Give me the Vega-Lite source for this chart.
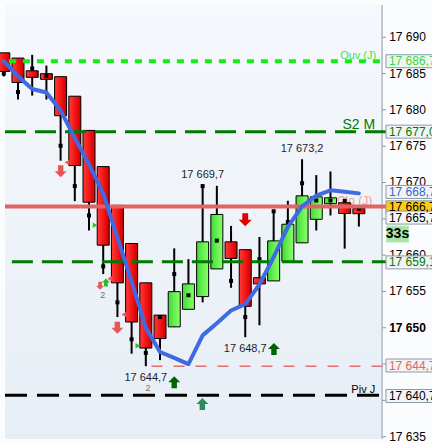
{
  "$schema": "https://vega.github.io/schema/vega-lite/v6.json",
  "width": 432,
  "height": 444,
  "padding": 0,
  "autosize": {"type": "none"},
  "background": "#fbfcfd",
  "config": {"view": {"fill": null, "stroke": null}, "font": "Liberation Sans"},
  "resolve": {"scale": {"color": "independent", "fill": "independent", "size": "independent", "shape": "independent", "strokeWidth": "independent", "strokeDash": "independent"}},
  "datasets": {
    "candles": [
      {"i": 0, "o": 17687.85, "h": 17687.85, "l": 17684.6, "c": 17685.29, "m": 17685.0},
      {"i": 1, "o": 17687.13, "h": 17687.13, "l": 17681.43, "c": 17683.77, "m": 17682.46},
      {"i": 2, "o": 17685.38, "h": 17687.58, "l": 17681.96, "c": 17684.48, "m": 17685.69},
      {"i": 3, "o": 17684.98, "h": 17686.1, "l": 17681.43, "c": 17684.21, "m": 17684.66},
      {"i": 4, "o": 17684.57, "h": 17684.57, "l": 17673.0, "c": 17679.19, "m": 17675.06},
      {"i": 5, "o": 17681.88, "h": 17681.88, "l": 17667.43, "c": 17672.33, "m": 17669.5},
      {"i": 6, "o": 17677.17, "h": 17677.17, "l": 17663.39, "c": 17667.29, "m": 17665.46},
      {"i": 7, "o": 17672.19, "h": 17672.19, "l": 17657.39, "c": 17661.37, "m": 17658.46},
      {"i": 8, "o": 17666.85, "h": 17666.85, "l": 17651.47, "c": 17656.18, "m": 17653.49},
      {"i": 9, "o": 17661.6, "h": 17661.6, "l": 17646.43, "c": 17650.79, "m": 17648.41},
      {"i": 10, "o": 17656.18, "h": 17656.18, "l": 17644.7, "c": 17647.2, "m": 17646.53},
      {"i": 11, "o": 17651.74, "h": 17651.74, "l": 17645.54, "c": 17648.51, "m": 17651.47},
      {"i": 12, "o": 17650.12, "h": 17660.93, "l": 17650.12, "c": 17654.97, "m": 17657.39},
      {"i": 13, "o": 17652.54, "h": 17659.45, "l": 17652.54, "c": 17656.04, "m": 17654.47},
      {"i": 14, "o": 17654.29, "h": 17669.7, "l": 17653.49, "c": 17661.83, "m": 17669.5},
      {"i": 15, "o": 17658.1, "h": 17669.54, "l": 17658.1, "c": 17665.6, "m": 17662.0},
      {"i": 16, "o": 17661.83, "h": 17664.02, "l": 17655.5, "c": 17659.54, "m": 17656.45},
      {"i": 17, "o": 17660.75, "h": 17660.75, "l": 17648.7, "c": 17652.95, "m": 17651.47},
      {"i": 18, "o": 17656.89, "h": 17662.5, "l": 17650.34, "c": 17656.04, "m": 17659.45},
      {"i": 19, "o": 17656.45, "h": 17666.04, "l": 17656.45, "c": 17661.96, "m": 17666.04},
      {"i": 20, "o": 17659.14, "h": 17667.48, "l": 17659.14, "c": 17664.25, "m": 17664.56},
      {"i": 21, "o": 17661.69, "h": 17673.2, "l": 17661.69, "c": 17668.16, "m": 17669.9},
      {"i": 22, "o": 17664.93, "h": 17671.02, "l": 17663.39, "c": 17668.02, "m": 17667.52},
      {"i": 23, "o": 17667.08, "h": 17671.52, "l": 17665.46, "c": 17667.89, "m": 17667.52},
      {"i": 24, "o": 17667.21, "h": 17667.52, "l": 17660.89, "c": 17665.73, "m": 17667.48},
      {"i": 25, "o": 17666.4, "h": 17666.4, "l": 17663.93, "c": 17665.7, "m": 17666.4}
    ],
    "ma": [
      {"i": 0, "v": 17686.7}, {"i": 1, "v": 17684.62}, {"i": 2, "v": 17682.87}, {"i": 3, "v": 17682.39},
      {"i": 4, "v": 17679.9}, {"i": 5, "v": 17676.14}, {"i": 6, "v": 17672.5}, {"i": 7, "v": 17668.46},
      {"i": 8, "v": 17662.41}, {"i": 9, "v": 17656.35}, {"i": 10, "v": 17650.0}, {"i": 11, "v": 17646.66},
      {"i": 12, "v": 17645.85}, {"i": 13, "v": 17645.0}, {"i": 14, "v": 17648.95}, {"i": 15, "v": 17650.63},
      {"i": 16, "v": 17652.38}, {"i": 17, "v": 17653.26}, {"i": 18, "v": 17655.95}, {"i": 19, "v": 17659.72},
      {"i": 20, "v": 17663.89}, {"i": 21, "v": 17666.71}, {"i": 22, "v": 17668.19}, {"i": 23, "v": 17668.93},
      {"i": 24, "v": 17668.73}, {"i": 25, "v": 17668.5}
    ],
    "levels": [
      {"name": "ouv", "v": 17686.7, "a": 0.36, "b": 26.908},
      {"name": "s2", "v": 17677.0, "a": 0.0853, "b": 26.908},
      {"name": "clo", "v": 17666.7, "a": 0.0853, "b": 26.908},
      {"name": "s1", "v": 17659.1, "a": 0.57, "b": 26.908},
      {"name": "low", "v": 17644.7, "a": 10.4, "b": 26.908},
      {"name": "piv", "v": 17640.7, "a": 0.0853, "b": 26.908}
    ],
    "marks": [
      {"k": "dn", "i": 4.005, "v": 17671.56},
      {"k": "dn", "i": 7.994, "v": 17650.0},
      {"k": "dnS", "i": 6.78, "v": 17655.77},
      {"k": "dnBig", "i": 17.0, "v": 17664.87},
      {"k": "up", "i": 12.0, "v": 17642.49},
      {"k": "up", "i": 19.02, "v": 17647.07},
      {"k": "up2", "i": 13.98, "v": 17639.49},
      {"k": "upS", "i": 7.19, "v": 17656.24},
      {"k": "triR", "i": 6.43, "v": 17664.12},
      {"k": "triR", "i": 9.44, "v": 17647.53},
      {"k": "triL", "i": 4.44, "v": 17672.77},
      {"k": "triL", "i": 7.46, "v": 17656.75},
      {"k": "triL", "i": 8.46, "v": 17651.82}
    ],
    "notes": [
      {"k": "ouv", "t": "Ouv (J)", "i": 26.22, "v": 17687.37},
      {"k": "s2", "t": "S2 M", "i": 26.15, "v": 17677.95},
      {"k": "piv", "t": "Piv J", "i": 26.15, "v": 17641.45}
    ],
    "prices": [
      {"k": "hi", "t": "17 669,7", "i": 14, "v": 17669.7},
      {"k": "hi", "t": "17 673,2", "i": 21, "v": 17673.2},
      {"k": "lo", "t": "17 648,7", "i": 17, "v": 17648.7},
      {"k": "lo", "t": "17 644,7", "i": 10, "v": 17644.7}
    ],
    "twos": [
      {"t": "2", "i": 6.96, "v": 17654.47},
      {"t": "2", "i": 10.16, "v": 17641.68}
    ],
    "ticks": [
      {"v": 17635, "t": "17 635"}, {"v": 17640, "t": "17 640"}, {"v": 17645, "t": "17 645"},
      {"v": 17650, "t": "17 650"}, {"v": 17655, "t": "17 655"}, {"v": 17660, "t": "17 660"},
      {"v": 17665, "t": "17 665"}, {"v": 17670, "t": "17 670"}, {"v": 17675, "t": "17 675"},
      {"v": 17680, "t": "17 680"}, {"v": 17685, "t": "17 685"}, {"v": 17690, "t": "17 690"}
    ],
    "boxes": [
      {"name": "ouv", "v": 17686.7, "t": "17 686,7"},
      {"name": "s2", "v": 17677.0, "t": "17 677,0"},
      {"name": "ma", "v": 17668.7, "t": "17 668,7"},
      {"name": "clo", "v": 17666.58, "t": "17 666,7"},
      {"name": "last", "v": 17665.17, "t": "17 665,7"},
      {"name": "s1", "v": 17659.0, "t": "17 659,1"},
      {"name": "low", "v": 17644.8, "t": "17 644,7"},
      {"name": "piv", "v": 17640.6, "t": "17 640,7"}
    ]
  },
  "layer": [
    {
      "data": {"values": [{"a": 0}]},
      "mark": {"type": "rect",
        "fill": {"gradient": "linear", "x1": 0, "y1": 0, "x2": 0, "y2": 1, "stops": [{"offset": 0, "color": "#f5f8fc"}, {"offset": 1, "color": "#e7eef5"}]}},
      "encoding": {
        "x": {"datum": 0.0853, "type": "quantitative", "scale": {"domain": [0.0853, 29.7964], "nice": false, "zero": false}, "axis": null},
        "x2": {"datum": 26.6},
        "y": {"datum": 17634.68, "type": "quantitative", "scale": {"domain": [17634.68, 17694.44], "nice": false, "zero": false}, "axis": null},
        "y2": {"datum": 17694.44}
      }
    },
    {
      "data": {"values": [{"a": 0}]},
      "mark": {"type": "rule", "color": "#8798aa", "strokeWidth": 1},
      "encoding": {
        "x": {"datum": 26.6327, "type": "quantitative", "scale": {"domain": [0.0853, 29.7964], "nice": false, "zero": false}, "axis": null},
        "y": {"datum": 17634.68, "type": "quantitative", "scale": {"domain": [17634.68, 17694.44], "nice": false, "zero": false}, "axis": null},
        "y2": {"datum": 17694.44}
      }
    },
    {
      "data": {"name": "ticks"},
      "mark": {"type": "rule", "color": "#8798aa", "strokeWidth": 1},
      "encoding": {
        "x": {"datum": 26.6327, "type": "quantitative", "scale": {"domain": [0.0853, 29.7964], "nice": false, "zero": false}, "axis": null},
        "x2": {"datum": 26.91},
        "y": {"field": "v", "type": "quantitative", "scale": {"domain": [17634.68, 17694.44], "nice": false, "zero": false}, "axis": null}
      }
    },
    {
      "data": {"name": "ticks"},
      "transform": [{"filter": "datum.v != 17650 && datum.v != 17665 && datum.v != 17645 && datum.v != 17640"}],
      "mark": {"type": "text", "align": "left", "baseline": "middle", "fontSize": 12, "color": "#000000"},
      "encoding": {
        "x": {"datum": 27.13, "type": "quantitative", "scale": {"domain": [0.0853, 29.7964], "nice": false, "zero": false}, "axis": null},
        "y": {"field": "v", "type": "quantitative", "scale": {"domain": [17634.68, 17694.44], "nice": false, "zero": false}, "axis": null},
        "text": {"field": "t"}
      }
    },
    {
      "data": {"name": "ticks"},
      "transform": [{"filter": "datum.v == 17650"}],
      "mark": {"type": "text", "align": "left", "baseline": "middle", "fontSize": 12, "fontWeight": "bold", "color": "#000000"},
      "encoding": {
        "x": {"datum": 27.13, "type": "quantitative", "scale": {"domain": [0.0853, 29.7964], "nice": false, "zero": false}, "axis": null},
        "y": {"field": "v", "type": "quantitative", "scale": {"domain": [17634.68, 17694.44], "nice": false, "zero": false}, "axis": null},
        "text": {"field": "t"}
      }
    },
    {
      "data": {"values": [{"t": "Clo (J)", "i": 25.94, "v": 17667.43}]},
      "mark": {"type": "text", "align": "right", "baseline": "middle", "fontSize": 12, "color": "#f09a9a"},
      "encoding": {
        "x": {"field": "i", "type": "quantitative", "scale": {"domain": [0.0853, 29.7964], "nice": false, "zero": false}, "axis": null},
        "y": {"field": "v", "type": "quantitative", "scale": {"domain": [17634.68, 17694.44], "nice": false, "zero": false}, "axis": null},
        "text": {"field": "t"}
      }
    },
    {
      "data": {"name": "candles"},
      "mark": {"type": "rule", "color": "#000000", "strokeWidth": 2},
      "encoding": {
        "x": {"field": "i", "type": "quantitative", "scale": {"domain": [0.0853, 29.7964], "nice": false, "zero": false}, "axis": null},
        "y": {"field": "l", "type": "quantitative", "scale": {"domain": [17634.68, 17694.44], "nice": false, "zero": false}, "axis": null},
        "y2": {"field": "h"}
      }
    },
    {
      "data": {"name": "candles"},
      "transform": [{"filter": "datum.c < datum.o"}],
      "mark": {"type": "bar", "width": 12, "stroke": "#000000", "strokeWidth": 1,
        "fill": {"gradient": "linear", "x1": 0, "y1": 0, "x2": 1, "y2": 0, "stops": [{"offset": 0, "color": "#ff3b3b"}, {"offset": 0.6, "color": "#f01010"}, {"offset": 1, "color": "#c80000"}]}},
      "encoding": {
        "x": {"field": "i", "type": "quantitative", "scale": {"domain": [0.0853, 29.7964], "nice": false, "zero": false}, "axis": null},
        "y": {"field": "o", "type": "quantitative", "scale": {"domain": [17634.68, 17694.44], "nice": false, "zero": false}, "axis": null},
        "y2": {"field": "c"}
      }
    },
    {
      "data": {"name": "candles"},
      "transform": [{"filter": "datum.c >= datum.o"}],
      "mark": {"type": "bar", "width": 12, "stroke": "#000000", "strokeWidth": 1,
        "fill": {"gradient": "linear", "x1": 0, "y1": 0, "x2": 1, "y2": 0, "stops": [{"offset": 0, "color": "#3fd83a"}, {"offset": 0.5, "color": "#66f050"}, {"offset": 1, "color": "#8cff6a"}]}},
      "encoding": {
        "x": {"field": "i", "type": "quantitative", "scale": {"domain": [0.0853, 29.7964], "nice": false, "zero": false}, "axis": null},
        "y": {"field": "o", "type": "quantitative", "scale": {"domain": [17634.68, 17694.44], "nice": false, "zero": false}, "axis": null},
        "y2": {"field": "c"}
      }
    },
    {
      "data": {"name": "candles"},
      "mark": {"type": "point", "shape": "square", "filled": true, "size": 16, "color": "#000000", "opacity": 1},
      "encoding": {
        "x": {"field": "i", "type": "quantitative", "scale": {"domain": [0.0853, 29.7964], "nice": false, "zero": false}, "axis": null},
        "y": {"field": "m", "type": "quantitative", "scale": {"domain": [17634.68, 17694.44], "nice": false, "zero": false}, "axis": null}
      }
    },
    {
      "data": {"name": "levels"},
      "mark": {"type": "rule"},
      "encoding": {
        "x": {"field": "a", "type": "quantitative", "scale": {"domain": [0.0853, 29.7964], "nice": false, "zero": false}, "axis": null},
        "x2": {"field": "b"},
        "y": {"field": "v", "type": "quantitative", "scale": {"domain": [17634.68, 17694.44], "nice": false, "zero": false}, "axis": null},
        "color": {"field": "name", "type": "nominal", "legend": null,
          "scale": {"domain": ["ouv", "s2", "clo", "s1", "low", "piv"], "range": ["#11ee11", "#007a00", "#e06464", "#007a00", "#e07070", "#000000"]}},
        "strokeWidth": {"field": "name", "type": "nominal", "legend": null,
          "scale": {"type": "ordinal", "domain": ["ouv", "s2", "clo", "s1", "low", "piv"], "range": [4, 3, 4, 3, 1.3, 3]}},
        "strokeDash": {"field": "name", "type": "nominal", "legend": null,
          "scale": {"domain": ["ouv", "s2", "clo", "s1", "low", "piv"], "range": [[7, 7], [21, 9], [1, 0], [21, 9], [11, 11], [22, 10]]}}
      }
    },
    {
      "data": {"name": "ma"},
      "mark": {"type": "line", "color": "#4169e1", "strokeWidth": 4, "strokeJoin": "round", "strokeCap": "round"},
      "encoding": {
        "x": {"field": "i", "type": "quantitative", "scale": {"domain": [0.0853, 29.7964], "nice": false, "zero": false}, "axis": null},
        "y": {"field": "v", "type": "quantitative", "scale": {"domain": [17634.68, 17694.44], "nice": false, "zero": false}, "axis": null}
      }
    },
    {
      "data": {"name": "marks"},
      "mark": {"type": "point", "filled": true, "opacity": 1, "strokeWidth": 0},
      "encoding": {
        "x": {"field": "i", "type": "quantitative", "scale": {"domain": [0.0853, 29.7964], "nice": false, "zero": false}, "axis": null},
        "y": {"field": "v", "type": "quantitative", "scale": {"domain": [17634.68, 17694.44], "nice": false, "zero": false}, "axis": null},
        "shape": {"field": "k", "type": "nominal", "legend": null,
          "scale": {"domain": ["dn", "dnS", "dnBig", "up", "up2", "upS", "triR", "triL"],
            "range": ["M-0.45,-1L0.45,-1L0.45,0L1,0L0,1L-1,0L-0.45,0Z", "M-0.45,-1L0.45,-1L0.45,0L1,0L0,1L-1,0L-0.45,0Z", "M-0.45,-1L0.45,-1L0.45,0L1,0L0,1L-1,0L-0.45,0Z",
              "M-0.45,1L0.45,1L0.45,0L1,0L0,-1L-1,0L-0.45,0Z", "M-0.45,1L0.45,1L0.45,0L1,0L0,-1L-1,0L-0.45,0Z", "M-0.45,1L0.45,1L0.45,0L1,0L0,-1L-1,0L-0.45,0Z",
              "triangle-right", "triangle-left"]}},
        "color": {"field": "k", "type": "nominal", "legend": null,
          "scale": {"domain": ["dn", "dnS", "dnBig", "up", "up2", "upS", "triR", "triL"],
            "range": ["#e85555", "#e85555", "#dd0000", "#006400", "#2e8b57", "#22bb22", "#22cc22", "#ee5555"]}},
        "size": {"field": "k", "type": "nominal", "legend": null,
          "scale": {"type": "ordinal", "domain": ["dn", "dnS", "dnBig", "up", "up2", "upS", "triR", "triL"], "range": [144, 64, 169, 144, 144, 64, 30, 30]}}
      }
    },
    {
      "data": {"name": "notes"},
      "transform": [{"filter": "datum.k == 'ouv'"}],
      "mark": {"type": "text", "align": "right", "baseline": "middle", "fontSize": 11, "color": "#44e044"},
      "encoding": {
        "x": {"field": "i", "type": "quantitative", "scale": {"domain": [0.0853, 29.7964], "nice": false, "zero": false}, "axis": null},
        "y": {"field": "v", "type": "quantitative", "scale": {"domain": [17634.68, 17694.44], "nice": false, "zero": false}, "axis": null},
        "text": {"field": "t"}
      }
    },
    {
      "data": {"name": "notes"},
      "transform": [{"filter": "datum.k == 's2'"}],
      "mark": {"type": "text", "align": "right", "baseline": "middle", "fontSize": 14, "color": "#007a00"},
      "encoding": {
        "x": {"field": "i", "type": "quantitative", "scale": {"domain": [0.0853, 29.7964], "nice": false, "zero": false}, "axis": null},
        "y": {"field": "v", "type": "quantitative", "scale": {"domain": [17634.68, 17694.44], "nice": false, "zero": false}, "axis": null},
        "text": {"field": "t"}
      }
    },
    {
      "data": {"name": "notes"},
      "transform": [{"filter": "datum.k == 'piv'"}],
      "mark": {"type": "text", "align": "right", "baseline": "middle", "fontSize": 11, "color": "#000000"},
      "encoding": {
        "x": {"field": "i", "type": "quantitative", "scale": {"domain": [0.0853, 29.7964], "nice": false, "zero": false}, "axis": null},
        "y": {"field": "v", "type": "quantitative", "scale": {"domain": [17634.68, 17694.44], "nice": false, "zero": false}, "axis": null},
        "text": {"field": "t"}
      }
    },
    {
      "data": {"name": "prices"},
      "transform": [{"filter": "datum.k == 'hi'"}],
      "mark": {"type": "text", "align": "center", "baseline": "middle", "dy": -10, "fontSize": 11, "color": "#1c1c30"},
      "encoding": {
        "x": {"field": "i", "type": "quantitative", "scale": {"domain": [0.0853, 29.7964], "nice": false, "zero": false}, "axis": null},
        "y": {"field": "v", "type": "quantitative", "scale": {"domain": [17634.68, 17694.44], "nice": false, "zero": false}, "axis": null},
        "text": {"field": "t"}
      }
    },
    {
      "data": {"name": "prices"},
      "transform": [{"filter": "datum.k == 'lo'"}],
      "mark": {"type": "text", "align": "center", "baseline": "middle", "dy": 12, "fontSize": 11, "color": "#1c1c30"},
      "encoding": {
        "x": {"field": "i", "type": "quantitative", "scale": {"domain": [0.0853, 29.7964], "nice": false, "zero": false}, "axis": null},
        "y": {"field": "v", "type": "quantitative", "scale": {"domain": [17634.68, 17694.44], "nice": false, "zero": false}, "axis": null},
        "text": {"field": "t"}
      }
    },
    {
      "data": {"name": "twos"},
      "mark": {"type": "text", "align": "center", "baseline": "middle", "fontSize": 9, "color": "#8a6a4a"},
      "encoding": {
        "x": {"field": "i", "type": "quantitative", "scale": {"domain": [0.0853, 29.7964], "nice": false, "zero": false}, "axis": null},
        "y": {"field": "v", "type": "quantitative", "scale": {"domain": [17634.68, 17694.44], "nice": false, "zero": false}, "axis": null},
        "text": {"field": "t"}
      }
    },
    {
      "data": {"name": "boxes"},
      "mark": {"type": "bar", "height": 13, "stroke": "#8a9aaa", "strokeWidth": 1},
      "encoding": {
        "x": {"datum": 26.908, "type": "quantitative", "scale": {"domain": [0.0853, 29.7964], "nice": false, "zero": false}, "axis": null},
        "x2": {"datum": 30.5},
        "y": {"field": "v", "type": "quantitative", "scale": {"domain": [17634.68, 17694.44], "nice": false, "zero": false}, "axis": null},
        "fill": {"field": "name", "type": "nominal", "legend": null,
          "scale": {"domain": ["ouv", "s2", "ma", "clo", "last", "s1", "low", "piv"],
            "range": ["#f2f4f3", "#f2f4f3", "#f2f4f7", "#ffcc11", "#f6f7f8", "#f2f4f3", "#f4f2f2", "#f2f4f6"]}}
      }
    },
    {
      "data": {"name": "boxes"},
      "mark": {"type": "text", "align": "left", "baseline": "middle", "fontSize": 12},
      "encoding": {
        "x": {"datum": 27.114, "type": "quantitative", "scale": {"domain": [0.0853, 29.7964], "nice": false, "zero": false}, "axis": null},
        "y": {"field": "v", "type": "quantitative", "scale": {"domain": [17634.68, 17694.44], "nice": false, "zero": false}, "axis": null},
        "text": {"field": "t"},
        "color": {"field": "name", "type": "nominal", "legend": null,
          "scale": {"domain": ["ouv", "s2", "ma", "clo", "last", "s1", "low", "piv"],
            "range": ["#33dd33", "#007a00", "#3366cc", "#000000", "#000000", "#007a00", "#e06666", "#000000"]}}
      }
    },
    {
      "data": {"values": [{"v": 17662.9, "t": "33s"}]},
      "mark": {"type": "bar", "height": 16, "fill": "#a3e6a3", "stroke": "#b8e8b8", "strokeWidth": 1},
      "encoding": {
        "x": {"datum": 26.956, "type": "quantitative", "scale": {"domain": [0.0853, 29.7964], "nice": false, "zero": false}, "axis": null},
        "x2": {"datum": 28.49},
        "y": {"field": "v", "type": "quantitative", "scale": {"domain": [17634.68, 17694.44], "nice": false, "zero": false}, "axis": null}
      }
    },
    {
      "data": {"values": [{"v": 17662.9, "t": "33s"}]},
      "mark": {"type": "text", "align": "center", "baseline": "middle", "fontSize": 14, "fontWeight": "bold", "color": "#000000"},
      "encoding": {
        "x": {"datum": 27.72, "type": "quantitative", "scale": {"domain": [0.0853, 29.7964], "nice": false, "zero": false}, "axis": null},
        "y": {"field": "v", "type": "quantitative", "scale": {"domain": [17634.68, 17694.44], "nice": false, "zero": false}, "axis": null},
        "text": {"field": "t"}
      }
    }
  ]
}
